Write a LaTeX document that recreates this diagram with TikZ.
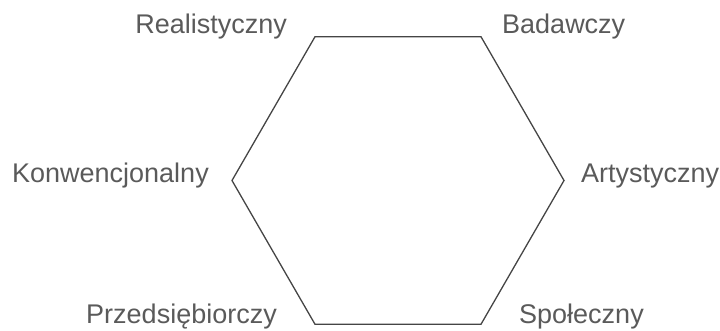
\documentclass[tikz,border=0pt]{standalone}
\usepackage{fontspec}
\setmainfont{Liberation Sans}
\usetikzlibrary{calc}
\definecolor{edgegray}{HTML}{454545}
\definecolor{labelgray}{HTML}{5A5A5A}
\begin{document}
\begin{tikzpicture}[x=1pt, y=1pt,
    typelabel/.style={text=labelgray, inner sep=0pt, font=\fontsize{27}{31}\selectfont}]
                \useasboundingbox (0,0) rectangle (720,331);

                % Hexagon corners
                \coordinate (center) at (398,150.5);
                \foreach \ang/\name in {0/art, 60/bad, 120/rea, 180/kon, 240/prz, 300/spo} {
                    \coordinate (\name) at ($(center)+(\ang:166)$);
                }

                % Hexagon
                \draw[edgegray, line width=1.3pt, line join=miter]
                    (rea) -- (bad) -- (art) -- (spo) -- (prz) -- (kon) -- cycle;

                % Labels
                \node[typelabel, anchor=base east] (lrea) at ($(rea)+(-28,3)$) {Realistyczny};
                \node[typelabel, anchor=base west] (lbad) at ($(bad)+(21,3)$) {Badawczy};
                \node[typelabel, anchor=base east] (lkon) at ($(kon)+(-23,-2)$) {Konwencjonalny};
                \node[typelabel, anchor=base west] (lart) at ($(art)+(17,-2)$) {Artystyczny};
                \node[typelabel, anchor=base east] (lprz) at ($(prz)+(-38,1)$) {Przedsiębiorczy};
                \node[typelabel, anchor=base west] (lspo) at ($(spo)+(38,1)$) {Społeczny};
\end{tikzpicture}
\end{document}
